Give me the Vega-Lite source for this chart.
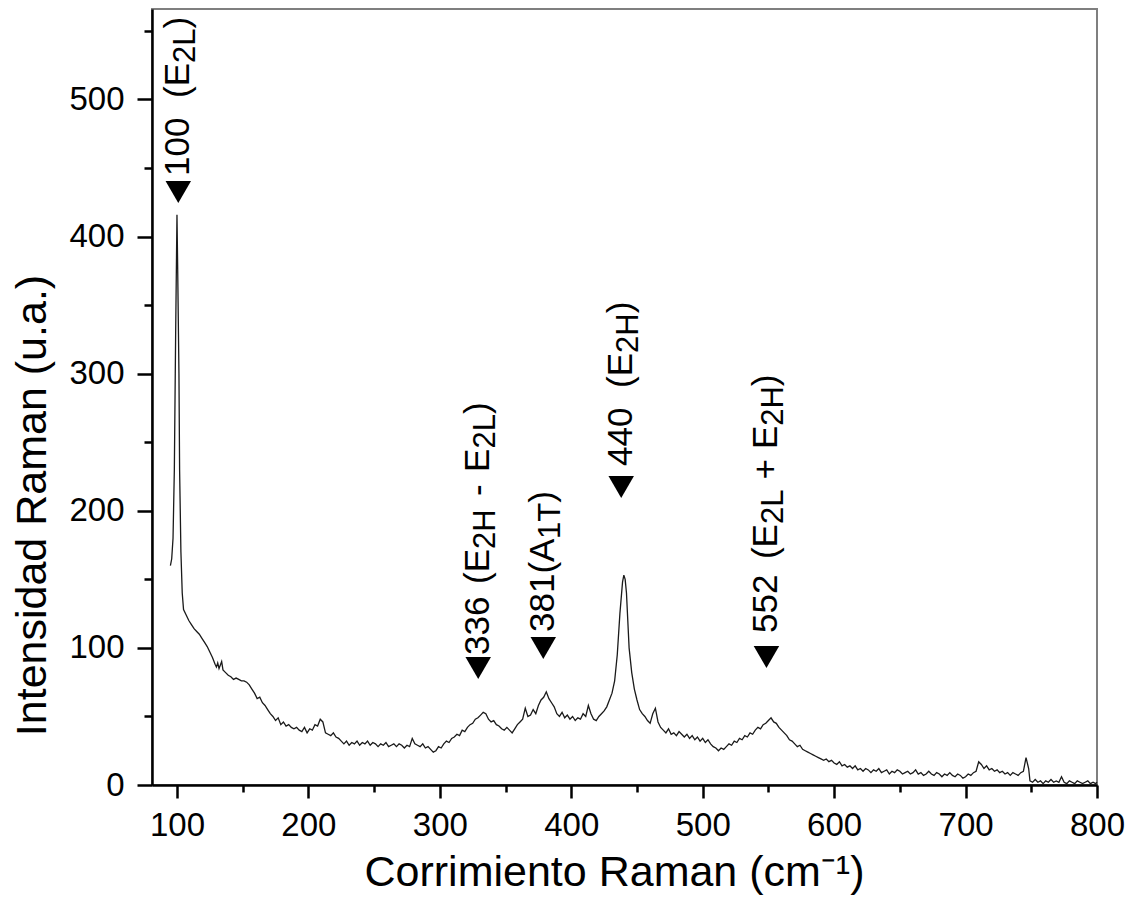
{
  "$schema": "https://vega.github.io/schema/vega-lite/v6.json",
  "autosize": {"type": "none"},
  "padding": {"left": 152, "top": 9, "right": 34, "bottom": 133},
  "width": 945,
  "height": 776,
  "background": "white",
  "config": {
    "font": "Liberation Sans",
    "view": {"stroke": "#7f7f7f", "strokeWidth": 2}
  },
  "datasets": {
    "spec": [
      {"x":95,"y":160},{"x":96,"y":165},{"x":97,"y":180},{"x":98,"y":230},{"x":99,"y":330},{"x":100,"y":416},{"x":100.5,"y":380},{"x":101,"y":340},{"x":101.5,"y":300},{"x":102,"y":230},{"x":103,"y":170},{"x":104,"y":140},{"x":105,"y":128},{"x":107,"y":124},{"x":109,"y":120},{"x":111,"y":117},{"x":113,"y":114},{"x":115,"y":112},{"x":117,"y":110},{"x":119,"y":107},{"x":121,"y":104},{"x":123,"y":101},{"x":125,"y":97},{"x":127,"y":93},{"x":129,"y":88},{"x":130,"y":86},{"x":131,"y":89},{"x":132,"y":85},{"x":134,"y":90},{"x":135,"y":84},{"x":137,"y":82},{"x":139,"y":80},{"x":141,"y":79},{"x":143,"y":77},{"x":145,"y":78},{"x":147,"y":77},{"x":149,"y":76},{"x":151,"y":76},{"x":153,"y":75},{"x":155,"y":73},{"x":157,"y":70},{"x":159,"y":67},{"x":161,"y":63},{"x":163,"y":64},{"x":165,"y":60},{"x":167,"y":58},{"x":169,"y":55},{"x":171,"y":52},{"x":173,"y":50},{"x":175,"y":47},{"x":177,"y":49},{"x":179,"y":44},{"x":181,"y":46},{"x":183,"y":43},{"x":185,"y":44},{"x":187,"y":42},{"x":189,"y":41},{"x":191,"y":42},{"x":193,"y":40},{"x":195,"y":39},{"x":197,"y":42},{"x":199,"y":38},{"x":201,"y":41},{"x":203,"y":40},{"x":205,"y":44},{"x":207,"y":43},{"x":209,"y":48},{"x":211,"y":46},{"x":213,"y":38},{"x":215,"y":37},{"x":217,"y":36},{"x":219,"y":38},{"x":221,"y":35},{"x":223,"y":34},{"x":225,"y":32},{"x":227,"y":30},{"x":229,"y":32},{"x":231,"y":29},{"x":233,"y":31},{"x":235,"y":30},{"x":237,"y":32},{"x":239,"y":29},{"x":241,"y":31},{"x":243,"y":30},{"x":245,"y":32},{"x":247,"y":29},{"x":249,"y":31},{"x":251,"y":30},{"x":253,"y":28},{"x":255,"y":30},{"x":257,"y":29},{"x":259,"y":31},{"x":261,"y":28},{"x":263,"y":29},{"x":265,"y":30},{"x":267,"y":28},{"x":269,"y":30},{"x":271,"y":29},{"x":273,"y":27},{"x":275,"y":29},{"x":277,"y":28},{"x":279,"y":34},{"x":281,"y":30},{"x":283,"y":29},{"x":285,"y":28},{"x":287,"y":30},{"x":289,"y":27},{"x":291,"y":28},{"x":293,"y":26},{"x":295,"y":24},{"x":297,"y":25},{"x":299,"y":28},{"x":301,"y":27},{"x":303,"y":30},{"x":305,"y":32},{"x":307,"y":31},{"x":309,"y":34},{"x":311,"y":35},{"x":313,"y":37},{"x":315,"y":36},{"x":317,"y":40},{"x":319,"y":39},{"x":321,"y":42},{"x":323,"y":44},{"x":325,"y":45},{"x":327,"y":48},{"x":329,"y":49},{"x":331,"y":51},{"x":333,"y":53},{"x":335,"y":52},{"x":337,"y":48},{"x":339,"y":46},{"x":341,"y":47},{"x":343,"y":44},{"x":345,"y":43},{"x":347,"y":41},{"x":349,"y":40},{"x":351,"y":42},{"x":353,"y":40},{"x":355,"y":38},{"x":357,"y":41},{"x":359,"y":44},{"x":361,"y":46},{"x":363,"y":48},{"x":365,"y":56},{"x":367,"y":50},{"x":369,"y":51},{"x":371,"y":55},{"x":373,"y":52},{"x":375,"y":58},{"x":377,"y":62},{"x":379,"y":64},{"x":381,"y":68},{"x":383,"y":63},{"x":385,"y":60},{"x":387,"y":57},{"x":389,"y":52},{"x":391,"y":50},{"x":393,"y":53},{"x":395,"y":49},{"x":397,"y":51},{"x":399,"y":48},{"x":401,"y":50},{"x":403,"y":47},{"x":405,"y":49},{"x":407,"y":48},{"x":409,"y":52},{"x":411,"y":50},{"x":413,"y":58},{"x":415,"y":52},{"x":417,"y":48},{"x":419,"y":47},{"x":421,"y":50},{"x":423,"y":52},{"x":425,"y":54},{"x":427,"y":57},{"x":429,"y":62},{"x":431,"y":67},{"x":433,"y":76},{"x":435,"y":95},{"x":437,"y":125},{"x":439,"y":148},{"x":440,"y":153},{"x":441,"y":150},{"x":442,"y":140},{"x":443,"y":120},{"x":444,"y":100},{"x":446,"y":82},{"x":448,"y":70},{"x":450,"y":62},{"x":452,"y":55},{"x":454,"y":52},{"x":456,"y":50},{"x":458,"y":47},{"x":460,"y":45},{"x":462,"y":52},{"x":464,"y":56},{"x":466,"y":46},{"x":468,"y":42},{"x":470,"y":40},{"x":472,"y":38},{"x":474,"y":41},{"x":476,"y":37},{"x":478,"y":38},{"x":480,"y":36},{"x":482,"y":39},{"x":484,"y":37},{"x":486,"y":35},{"x":488,"y":37},{"x":490,"y":34},{"x":492,"y":36},{"x":494,"y":33},{"x":496,"y":35},{"x":498,"y":32},{"x":500,"y":34},{"x":502,"y":31},{"x":504,"y":33},{"x":506,"y":30},{"x":508,"y":28},{"x":510,"y":27},{"x":512,"y":25},{"x":514,"y":27},{"x":516,"y":26},{"x":518,"y":28},{"x":520,"y":30},{"x":522,"y":29},{"x":524,"y":32},{"x":526,"y":31},{"x":528,"y":34},{"x":530,"y":33},{"x":532,"y":36},{"x":534,"y":35},{"x":536,"y":38},{"x":538,"y":37},{"x":540,"y":40},{"x":542,"y":42},{"x":544,"y":41},{"x":546,"y":44},{"x":548,"y":45},{"x":550,"y":47},{"x":552,"y":49},{"x":554,"y":46},{"x":556,"y":45},{"x":558,"y":42},{"x":560,"y":40},{"x":562,"y":38},{"x":564,"y":36},{"x":566,"y":33},{"x":568,"y":32},{"x":570,"y":30},{"x":572,"y":28},{"x":574,"y":29},{"x":576,"y":26},{"x":578,"y":25},{"x":580,"y":24},{"x":582,"y":23},{"x":584,"y":22},{"x":586,"y":21},{"x":588,"y":20},{"x":590,"y":19},{"x":592,"y":18},{"x":594,"y":19},{"x":596,"y":17},{"x":598,"y":18},{"x":600,"y":16},{"x":602,"y":15},{"x":604,"y":17},{"x":606,"y":14},{"x":608,"y":15},{"x":610,"y":13},{"x":612,"y":14},{"x":614,"y":12},{"x":616,"y":14},{"x":618,"y":11},{"x":620,"y":12},{"x":622,"y":10},{"x":624,"y":12},{"x":626,"y":11},{"x":628,"y":9},{"x":630,"y":11},{"x":632,"y":10},{"x":634,"y":12},{"x":636,"y":9},{"x":638,"y":10},{"x":640,"y":11},{"x":642,"y":8},{"x":644,"y":10},{"x":646,"y":9},{"x":648,"y":11},{"x":650,"y":10},{"x":652,"y":8},{"x":654,"y":9},{"x":656,"y":10},{"x":658,"y":8},{"x":660,"y":9},{"x":662,"y":11},{"x":664,"y":8},{"x":666,"y":9},{"x":668,"y":7},{"x":670,"y":8},{"x":672,"y":10},{"x":674,"y":8},{"x":676,"y":7},{"x":678,"y":9},{"x":680,"y":8},{"x":682,"y":6},{"x":684,"y":8},{"x":686,"y":7},{"x":688,"y":9},{"x":690,"y":7},{"x":692,"y":6},{"x":694,"y":8},{"x":696,"y":7},{"x":698,"y":5},{"x":700,"y":6},{"x":702,"y":8},{"x":704,"y":7},{"x":706,"y":9},{"x":708,"y":10},{"x":710,"y":17},{"x":712,"y":15},{"x":714,"y":12},{"x":716,"y":14},{"x":718,"y":11},{"x":720,"y":12},{"x":722,"y":10},{"x":724,"y":11},{"x":726,"y":9},{"x":728,"y":10},{"x":730,"y":8},{"x":732,"y":9},{"x":734,"y":7},{"x":736,"y":9},{"x":738,"y":8},{"x":740,"y":7},{"x":742,"y":9},{"x":744,"y":10},{"x":746,"y":20},{"x":748,"y":12},{"x":749,"y":3},{"x":751,"y":2},{"x":753,"y":4},{"x":755,"y":2},{"x":757,"y":3},{"x":759,"y":1},{"x":761,"y":3},{"x":763,"y":2},{"x":765,"y":4},{"x":767,"y":2},{"x":769,"y":3},{"x":771,"y":2},{"x":773,"y":6},{"x":775,"y":2},{"x":777,"y":1},{"x":779,"y":3},{"x":781,"y":2},{"x":783,"y":1},{"x":785,"y":3},{"x":787,"y":2},{"x":789,"y":1},{"x":791,"y":2},{"x":793,"y":3},{"x":795,"y":1},{"x":797,"y":2},{"x":799,"y":1},{"x":800,"y":2}
    ],
    "tri": [
      {"x":101.0,"y":432.5},{"x":329.2,"y":85.3},{"x":378.7,"y":99.9},{"x":438.0,"y":217.4},{"x":548.5,"y":93.4}
    ],
    "labMain": [
      {"x":101.0,"y":444.2,"t":"100"},{"x":101.0,"y":501.1,"t":"(E"},{"x":101.0,"y":551.8,"t":")"},
      {"x":329.2,"y":94.8,"t":"336"},{"x":329.2,"y":146.6,"t":"(E"},{"x":329.2,"y":210.8,"t":"-"},{"x":329.2,"y":228.3,"t":"E"},{"x":329.2,"y":270.6,"t":")"},
      {"x":378.7,"y":111.6,"t":"381"},{"x":378.7,"y":154.2,"t":"(A"},{"x":378.7,"y":205.8,"t":")"},
      {"x":438.0,"y":232.7,"t":"440"},{"x":438.0,"y":289.6,"t":"(E"},{"x":438.0,"y":344.0,"t":")"},
      {"x":548.5,"y":110.9,"t":"552"},{"x":548.5,"y":164.8,"t":"(E"},{"x":548.5,"y":222.8,"t":"+"},{"x":548.5,"y":245.1,"t":"E"},{"x":548.5,"y":290.9,"t":")"}
    ],
    "labSub": [
      {"x":101.0,"y":526.6,"t":"2L"},
      {"x":329.2,"y":172.1,"t":"2H"},{"x":329.2,"y":245.4,"t":"2L"},
      {"x":378.7,"y":179.4,"t":"1T"},
      {"x":438.0,"y":315.1,"t":"2H"},
      {"x":548.5,"y":190.4,"t":"2L"},{"x":548.5,"y":262.1,"t":"2H"}
    ]
  },
  "encoding": {
    "x": {
      "field": "x", "type": "quantitative",
      "scale": {"domain": [81, 800], "nice": false, "zero": false},
      "title": "Corrimiento Raman (cm⁻¹)",
      "axis": {
        "values": [100,150,200,250,300,350,400,450,500,550,600,650,700,750,800],
        "labelExpr": "datum.value % 100 === 0 ? datum.label : ''",
        "grid": false,
        "domainColor": "black", "domainWidth": 2.5,
        "tickColor": "black", "tickWidth": 2.5,
        "tickSize": {"condition": {"test": "datum.value % 100 !== 0", "value": 7}, "value": 13},
        "labelPadding": 11, "labelFontSize": 33, "labelColor": "black",
        "labelFlush": false, "labelOverlap": false,
        "titleFontSize": 43, "titleFontWeight": "normal", "titleColor": "black",
        "titlePadding": 9, "titleX": 462
      }
    },
    "y": {
      "field": "y", "type": "quantitative",
      "scale": {"domain": [0, 566], "nice": false, "zero": false},
      "title": "Intensidad Raman (u.a.)",
      "axis": {
        "values": [0,50,100,150,200,250,300,350,400,450,500,550],
        "labelExpr": "datum.value % 100 === 0 ? datum.label : ''",
        "grid": false,
        "domainColor": "black", "domainWidth": 2.5,
        "tickColor": "black", "tickWidth": 2.5,
        "tickSize": {"condition": {"test": "datum.value % 100 !== 0", "value": 8}, "value": 15},
        "labelPadding": 13, "labelFontSize": 33, "labelColor": "black",
        "labelFlush": false, "labelOverlap": false,
        "titleFontSize": 43, "titleFontWeight": "normal", "titleColor": "black",
        "titlePadding": 14, "titleY": 496
      }
    }
  },
  "layer": [
    {
      "data": {"name": "spec"},
      "mark": {"type": "line", "color": "#1a1a1a", "strokeWidth": 1.3}
    },
    {
      "data": {"name": "tri"},
      "mark": {"type": "point", "shape": "triangle-down", "filled": true, "color": "black", "opacity": 1, "size": 650}
    },
    {
      "data": {"name": "labMain"},
      "mark": {"type": "text", "angle": 270, "align": "left", "baseline": "middle", "fontSize": 35, "color": "black"},
      "encoding": {"text": {"field": "t"}}
    },
    {
      "data": {"name": "labSub"},
      "mark": {"type": "text", "angle": 270, "align": "left", "baseline": "middle", "fontSize": 31, "dy": 8, "color": "black"},
      "encoding": {"text": {"field": "t"}}
    }
  ]
}
